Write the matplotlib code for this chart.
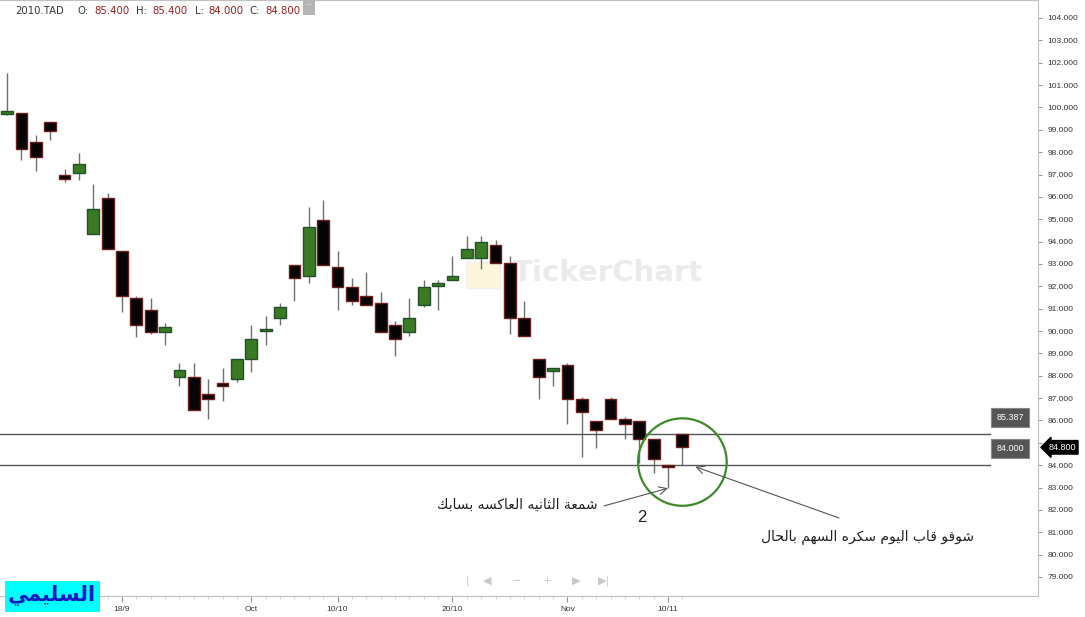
import numpy as np
import matplotlib
matplotlib.use('Agg')
import matplotlib.pyplot as plt
from matplotlib.patches import Ellipse, Rectangle

# daily OHLC for 2010.TAD
opens = [99.72, 99.74, 98.44, 99.34, 96.97, 97.05, 94.33, 95.94, 93.57, 91.46, 90.93, 89.94,
         87.93, 87.93, 87.17, 87.66, 87.84, 88.74, 90.00, 90.57, 92.94, 92.45, 94.95, 92.85,
         91.96, 91.55, 91.24, 90.26, 89.94, 91.15, 92.03, 92.27, 93.25, 93.25, 93.83, 93.03,
         90.57, 88.74, 88.22, 88.47, 86.95, 85.96, 86.95, 86.05, 85.96, 85.16, 84.00, 85.40]
highs = [101.53, 99.75, 98.75, 99.34, 97.23, 97.95, 96.56, 96.16, 93.57, 91.57, 91.46, 90.35,
         88.56, 88.56, 87.84, 88.33, 88.74, 90.26, 90.67, 91.24, 92.94, 95.53, 95.85, 93.57,
         92.36, 92.63, 91.73, 90.44, 91.46, 92.27, 92.27, 93.34, 94.24, 94.24, 94.06, 93.34,
         91.33, 88.74, 88.35, 88.56, 87.04, 85.96, 87.04, 86.14, 85.96, 85.16, 84.00, 85.40]
lows = [99.66, 97.65, 97.16, 98.54, 96.65, 96.76, 94.33, 93.66, 90.84, 89.75, 89.85, 89.36,
        87.54, 86.47, 86.05, 86.86, 87.73, 88.15, 89.36, 90.26, 91.34, 92.13, 92.94, 90.94,
        91.15, 91.15, 89.94, 88.87, 89.76, 91.06, 90.93, 92.27, 93.25, 92.76, 93.03, 89.85,
        89.76, 86.95, 87.53, 85.83, 84.35, 84.76, 86.05, 85.16, 84.09, 83.64, 82.97, 84.00]
closes = [99.82, 98.13, 97.77, 98.93, 96.78, 97.46, 95.44, 93.66, 91.55, 90.26, 89.94, 90.17,
          88.24, 86.47, 86.95, 87.53, 88.74, 89.63, 90.04, 91.06, 92.36, 94.64, 92.94, 91.96,
          91.33, 91.15, 89.94, 89.63, 90.57, 91.96, 92.17, 92.45, 93.66, 93.97, 93.03, 90.57,
          89.76, 87.93, 88.33, 86.95, 86.37, 85.56, 86.05, 85.83, 85.16, 84.26, 83.90, 84.80]

tick_idx = [8, 17, 23, 31, 39, 46]
tick_labels = ['18/9', 'Oct', '10/10', '20/10', 'Nov', '10/11']
levels = [85.387, 84.000]
last_close = 84.800

note1 = 'شمعة الثانيه العاكسه بسابك'
note2 = 'شوفو قاب اليوم سكره السهم بالحال'
author = 'السليمي'

# arabic contextual forms (isolated, final, initial, medial)
FORMS = {
    'ا': (0xFE8D, 0xFE8E, None, None), 'ب': (0xFE8F, 0xFE90, 0xFE91, 0xFE92),
    'ة': (0xFE93, 0xFE94, None, None), 'ت': (0xFE95, 0xFE96, 0xFE97, 0xFE98),
    'ث': (0xFE99, 0xFE9A, 0xFE9B, 0xFE9C), 'ح': (0xFEA1, 0xFEA2, 0xFEA3, 0xFEA4),
    'ر': (0xFEAD, 0xFEAE, None, None), 'س': (0xFEB1, 0xFEB2, 0xFEB3, 0xFEB4),
    'ش': (0xFEB5, 0xFEB6, 0xFEB7, 0xFEB8), 'ع': (0xFEC9, 0xFECA, 0xFECB, 0xFECC),
    'ف': (0xFED1, 0xFED2, 0xFED3, 0xFED4), 'ق': (0xFED5, 0xFED6, 0xFED7, 0xFED8),
    'ك': (0xFED9, 0xFEDA, 0xFEDB, 0xFEDC), 'ل': (0xFEDD, 0xFEDE, 0xFEDF, 0xFEE0),
    'م': (0xFEE1, 0xFEE2, 0xFEE3, 0xFEE4), 'ن': (0xFEE5, 0xFEE6, 0xFEE7, 0xFEE8),
    'ه': (0xFEE9, 0xFEEA, 0xFEEB, 0xFEEC), 'و': (0xFEED, 0xFEEE, None, None),
    'ي': (0xFEF1, 0xFEF2, 0xFEF3, 0xFEF4),
}


def shape(text):
    out = []
    for i, ch in enumerate(text):
        f = FORMS.get(ch)
        if f is None:
            out.append(ch)
            continue
        prev = text[i - 1] if i > 0 else ''
        nxt = text[i + 1] if i + 1 < len(text) else ''
        jp = prev in FORMS and FORMS[prev][2] is not None
        jn = f[2] is not None and nxt in FORMS
        if jp and jn:
            c = f[3]
        elif jp:
            c = f[1]
        elif jn:
            c = f[2]
        else:
            c = f[0]
        out.append(chr(c))
    return ''.join(reversed(out))


W, H = 1085, 617
fig = plt.figure(figsize=(W / 100, H / 100), dpi=100)
ax = fig.add_axes([0, 21 / H, 1038 / W, 596 / H])

x = np.arange(len(opens))
o = np.array(opens)
c = np.array(closes)
up = c >= o

ax.vlines(x, lows, highs, color='#707070', lw=1, zorder=2)
body_bot = np.minimum(o, c)
body_h = np.maximum(np.abs(c - o), 0.1)
ax.bar(x[up], body_h[up], bottom=body_bot[up], width=0.82,
       color='#3a7a22', edgecolor='#21502a', lw=1, zorder=3)
ax.bar(x[~up], body_h[~up], bottom=body_bot[~up], width=0.82,
       color='#050505', edgecolor='#6e1c1c', lw=1, zorder=3)

ax.set_xlim(-0.49, 71.75)
ax.set_ylim(78.15, 104.805)

# support / resistance lines with their tags
for lv in levels:
    ax.axhline(lv, xmax=990 / 1038, color='#555555', lw=1, zorder=2)
    ax.annotate('%.3f' % lv, xy=(1010 / 1038, lv), xycoords=ax.get_yaxis_transform(),
                xytext=(0, 17), textcoords='offset pixels', ha='center', va='center',
                color='white', fontsize=6.5, family='Liberation Sans',
                bbox=dict(boxstyle='square,pad=0.55', fc='#555555', ec='#888888', lw=0.8))

ax.annotate('%.3f' % last_close, xy=(1.0, last_close), xycoords=ax.get_yaxis_transform(),
            xytext=(24, 0), textcoords='offset pixels', ha='center', va='center',
            color='white', fontsize=6.5, family='Liberation Sans', annotation_clip=False,
            bbox=dict(boxstyle='larrow,pad=0.25', fc='black', ec='black'), zorder=10)

# axes look
ax.yaxis.tick_right()
ax.set_yticks(np.arange(79, 105))
ax.set_yticklabels(['%.3f' % v for v in np.arange(79, 105)])
ax.tick_params(axis='y', length=3, color='#999999', labelsize=6, labelcolor='#333333', pad=4)
for lab in ax.get_yticklabels():
    lab.set_family('Liberation Sans')
ax.set_xticks(tick_idx)
ax.set_xticklabels(tick_labels)
ax.set_xticks(x, minor=True)
ax.tick_params(axis='x', which='major', length=4, color='#999999', labelsize=6,
               labelcolor='#333333', pad=3)
ax.tick_params(axis='x', which='minor', length=2, color='#cccccc')
for lab in ax.get_xticklabels():
    lab.set_family('Liberation Sans')
ax.spines['left'].set_visible(False)
for s in ['right', 'bottom', 'top']:
    ax.spines[s].set_color('#c0c0c0')

# watermark
ax.add_patch(Rectangle((466 / W, 1 - 288 / H), 34 / W, 26 / H, transform=fig.transFigure,
                       fc='#fdf6dc', ec='#efefef', zorder=0.5))
ax.text(608 / W, 1 - 273 / H, 'TickerChart', transform=fig.transFigure, ha='center',
        va='center', fontsize=21, fontweight='bold', color='#ebebeb', zorder=0.6)

# annotations
ax.add_patch(Ellipse((47, 84.14), 6.17, 3.91, fill=False, ec='#3d8a2b', lw=1.6, zorder=5))
ax.annotate('', xy=(46, lows[46]), xytext=(41.55, 82.18),
            arrowprops=dict(arrowstyle='->', color='#555555', lw=0.8, mutation_scale=14,
                            shrinkA=0, shrinkB=0), zorder=6)
ax.annotate('', xy=(47.9, 83.93), xytext=(57.9, 81.64),
            arrowprops=dict(arrowstyle='->', color='#555555', lw=0.8, mutation_scale=14,
                            shrinkA=0, shrinkB=0), zorder=6)
ax.text(41.1, 82.22, shape(note1), ha='right', va='center', fontsize=10, color='#222222')
ax.text(44.2, 81.64, '2', ha='center', va='center', fontsize=12, color='#222222',
        family='Liberation Sans')
ax.text(59.85, 80.79, shape(note2), ha='center', va='center', fontsize=10, color='#222222')

# header
hdr = [(15, '2010.TAD', '#333333'), (77, 'O:', '#333333'), (94, '85.400', '#9b1c1c'),
       (136, 'H:', '#333333'), (152, '85.400', '#9b1c1c'), (195, 'L:', '#333333'),
       (208, '84.000', '#9b1c1c'), (249, 'C:', '#333333'), (265, '84.800', '#9b1c1c')]
for px, s, col in hdr:
    fig.text(px / W, 1 - 11 / H, s, ha='left', va='center', fontsize=7.3, color=col)
fig.add_artist(Rectangle((303 / W, 1 - 15 / H), 12 / W, 15 / H, transform=fig.transFigure,
                         fc='#b5b5b5', ec='none'))
fig.text(309 / W, 1 - 6 / H, '···', ha='center', va='center', fontsize=6, color='white')

# navigator icons
for px, s in [(467, '|'), (487, '◀'), (517, '−'), (547, '+'), (576, '▶'), (604, '▶|')]:
    fig.text(px / W, 1 - 581 / H, s, ha='center', va='center', fontsize=8, color='#c8c8c8')

# author stamp
fig.add_artist(Rectangle((5 / W, 1 - 612 / H), 95 / W, 31 / H, transform=fig.transFigure,
                         fc='#00ffff', ec='none'))
fig.text(52 / W, 1 - 595 / H, shape(author), ha='center', va='center', fontsize=15,
         fontweight='bold', color='#1818c8')

fig.savefig('out.png', dpi=100)
